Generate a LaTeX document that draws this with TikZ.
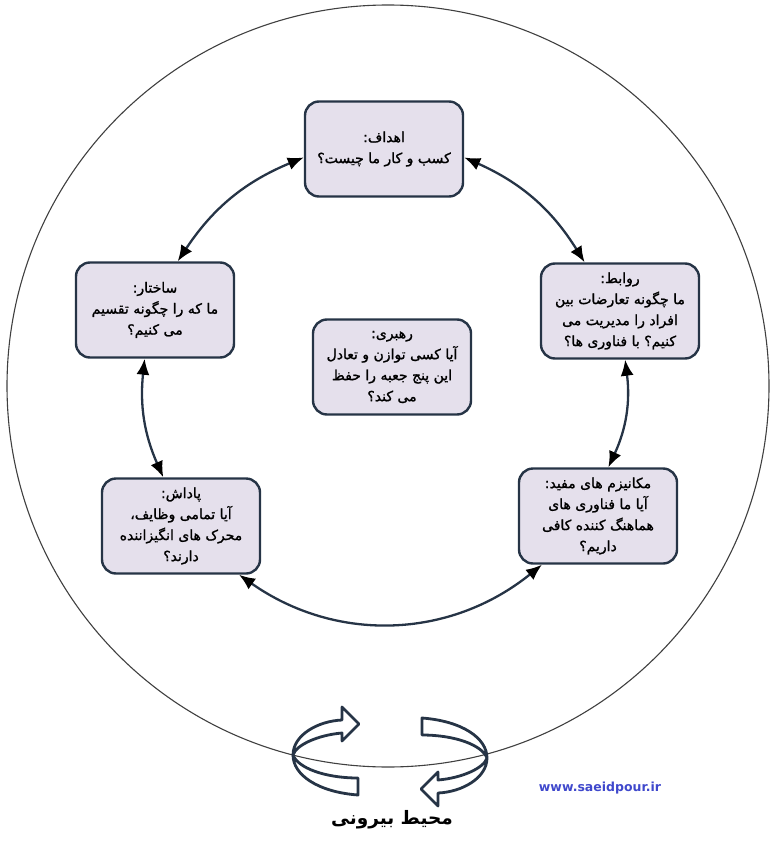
\documentclass[tikz,border=0pt]{standalone}
\usepackage{fontspec}
\setsansfont{DejaVu Sans}
\newfontfamily\arabicfont[Script=Arabic]{DejaVu Sans}
\newfontfamily\boxfont[Script=Arabic,FakeBold=1.3]{DejaVu Sans}
\TeXXeTstate=1
\usetikzlibrary{arrows.meta}
\definecolor{navy}{RGB}{38,52,70}
\definecolor{lavender}{RGB}{229,224,236}
\definecolor{webblue}{RGB}{63,72,204}

\begin{document}
\begin{tikzpicture}[x=1pt,y=-1pt,
box/.style={draw=navy, fill=lavender, line width=2.4pt, rounded corners=14pt, minimum width=158pt, minimum height=95pt, align=center, font=\boxfont\fontsize{14}{21}\selectfont},
link/.style={draw=navy, line width=2.3pt, {Latex[length=16pt,width=13pt,color=black]}-{Latex[length=16pt,width=13pt,color=black]}},
ribbon/.style={draw=navy, line width=2.8pt, line join=round}]

\useasboundingbox (0,0) rectangle (774,848);
\draw[black!75, line width=1.1pt] (388,386) circle[radius=381];

% the six boxes
\node[box] (ahdaf) at (384,149) {\beginR اهداف:\endR\\ \beginR کسب و کار ما چیست؟\endR};
\node[box] (ravabet) at (620,311) {\beginR روابط:\endR\\ \beginR ما چگونه تعارضات بین\endR\\ \beginR افراد را مدیریت می\endR\\ \beginR کنیم؟ با فناوری ها؟\endR};
\node[box] (sakhtar) at (155,310) {\beginR ساختار:\endR\\ \beginR ما که را چگونه تقسیم\endR\\ \beginR می کنیم؟\endR};
\node[box] (rahbari) at (392,367) {\beginR رهبری:\endR\\ \beginR آیا کسی توازن و تعادل\endR\\ \beginR این پنج جعبه را حفظ\endR\\ \beginR می کند؟\endR};
\node[box] (padash) at (181,526) {\beginR پاداش:\endR\\ \beginR آیا تمامی وظایف،\endR\\ \beginR محرک های انگیزاننده\endR\\ \beginR دارند؟\endR};
\node[box] (mekanizm) at (598,516) {\beginR مکانیزم های مفید:\endR\\ \beginR آیا ما فناوری های\endR\\ \beginR هماهنگ کننده کافی\endR\\ \beginR داریم؟\endR};

% the ring of arrows
\draw[link] (ahdaf.186) to[bend right=17] (sakhtar.65);
\draw[link] (ahdaf.-6) to[bend left=17] (ravabet.126);
\draw[link] (ravabet.-84) to[bend left=16] (mekanizm.78);
\draw[link] (mekanizm.221) to[bend left=37] (padash.-40);
\draw[link] (sakhtar.-102) to[bend right=15] (padash.110);

% turning arrows
\draw[ribbon] (358,795) .. controls (318,792) and (293,775) .. (293,755) .. controls (293,735) and (318,721) .. (342,720) -- (342,707) -- (359,724) -- (342,741) -- (342,733) .. controls (318,735) and (296,745) .. (293,755) .. controls (298,768) and (325,778) .. (358,778) -- cycle;
\begin{scope}[rotate around={180:(390,756.5)}]
\draw[ribbon] (358,795) .. controls (318,792) and (293,775) .. (293,755) .. controls (293,735) and (318,721) .. (342,720) -- (342,707) -- (359,724) -- (342,741) -- (342,733) .. controls (318,735) and (296,745) .. (293,755) .. controls (298,768) and (325,778) .. (358,778) -- cycle;
\end{scope}

\node[font=\arabicfont\bfseries\fontsize{18.5}{22}\selectfont] (mohit) at (392,820) {\beginR محیط بیرونی\endR};
\node[font=\sffamily\bfseries\fontsize{12.5}{15}\selectfont, text=webblue] (site) at (600,788) {www.saeidpour.ir};
\end{tikzpicture}
\end{document}
